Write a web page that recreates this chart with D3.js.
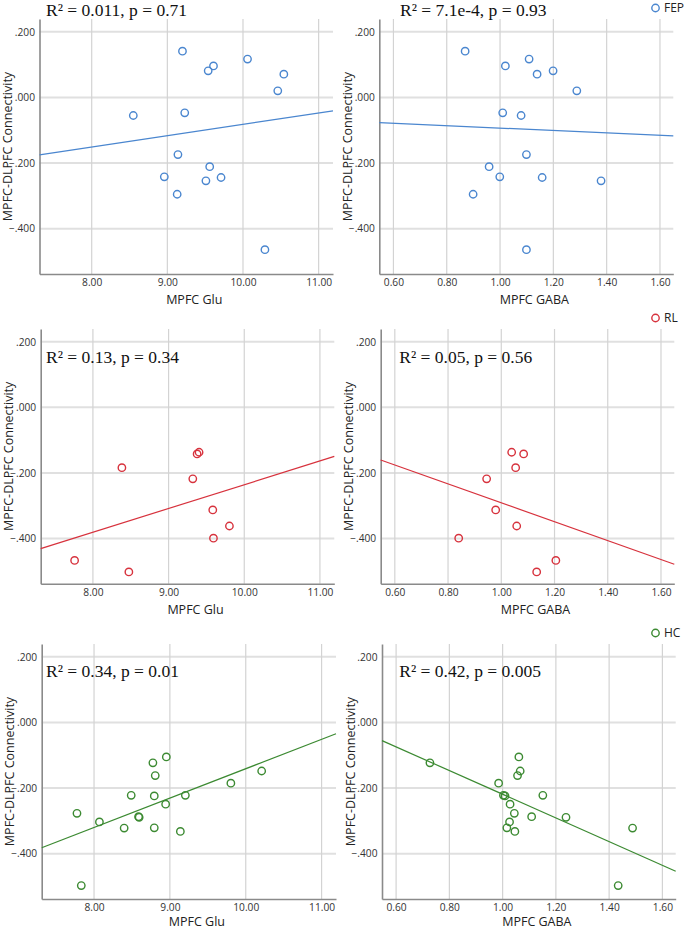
<!DOCTYPE html>
<html>
<head>
<meta charset="utf-8">
<script src="https://cdn.jsdelivr.net/npm/d3@7"></script>
<style>
  body { margin: 0; background: #fff; }
  svg { display: block; }
</style>
</head>
<body>
<div id="chart"></div>
<script>
// group names and colours
const groups = ['FEP', 'RL', 'HC'];
const groupColors = ['#4a86cf', '#d7323d', '#3c8a32'];

// MPFC-DLPFC connectivity per subject, with MPFC Glu and GABA of the same subject
const fepConn = [0.141, 0.117, 0.096, 0.081, 0.071, 0.020, -0.047, -0.055, -0.174, -0.211, -0.242, -0.244, -0.254, -0.295, -0.464];
const fepGlu  = [9.20, 10.06, 9.61, 9.54, 10.54, 10.46, 9.23, 8.55, 9.14, 9.56, 8.96, 9.71, 9.51, 9.13, 10.29];
const fepGaba = [0.869, 1.109, 1.020, 1.199, 1.139, 1.288, 1.010, 1.079, 1.099, 0.959, 0.999, 1.158, 1.379, 0.899, 1.099];

const rlConn = [-0.137, -0.142, -0.184, -0.218, -0.313, -0.362, -0.399, -0.467, -0.502];
const rlGlu  = [9.403, 9.377, 8.383, 9.320, 9.584, 9.804, 9.593, 7.758, 8.475];
const rlGaba = [1.039, 1.084, 1.054, 0.945, 0.979, 1.058, 0.840, 1.205, 1.133];

const hcConn = [-0.105, -0.123, -0.148, -0.162, -0.185, -0.222, -0.222, -0.224, -0.249, -0.277, -0.287, -0.289, -0.303, -0.321, -0.322, -0.332, -0.497];
const hcGlu  = [8.953, 8.776, 10.210, 8.807, 9.804, 8.490, 9.204, 8.794, 8.944, 7.775, 8.587, 8.595, 8.071, 8.794, 8.397, 9.138, 7.832];
const hcGaba = [1.061, 0.727, 1.066, 1.056, 0.985, 1.003, 1.151, 1.009, 1.028, 1.044, 1.109, 1.238, 1.026, 1.016, 1.488, 1.046, 1.434];

// fit lines: [slope, intercept]
const fitGlu  = [[0.0346, -0.428], [0.0725, -0.961], [0.0895, -1.036]];
const fitGaba = [[-0.0361, -0.0573], [-0.2886, -0.0026], [-0.3607, 0.1419]];

// statistics text
const statsGlu  = ['R\u00b2 = 0.011, p = 0.71', 'R\u00b2 = 0.13, p = 0.34', 'R\u00b2 = 0.34, p = 0.01'];
const statsGaba = ['R\u00b2 = 7.1e-4, p = 0.93', 'R\u00b2 = 0.05, p = 0.56', 'R\u00b2 = 0.42, p = 0.005'];

// axis ticks
const gluTicks  = [8, 9, 10, 11];
const gabaTicks = [0.6, 0.8, 1.0, 1.2, 1.4, 1.6];
const connTicks = [0.2, 0, -0.2, -0.4];

const conn = [fepConn, rlConn, hcConn];
const glu  = [fepGlu, rlGlu, hcGlu];
const gaba = [fepGaba, rlGaba, hcGaba];

const svg = d3.select('#chart')
      .append('svg')
      .attr('width', 685)
      .attr('height', 931);

// plot rectangles [left, top, right, bottom], one row per group
const rects = [
  [[39.5, 19, 333, 274], [379.3, 19, 673.3, 274]],
  [[40.7, 329, 334.3, 583.7], [380.7, 329, 674.3, 583.7]],
  [[41.7, 644, 336, 899], [382, 644, 675.7, 899]]
];

const yFmt = d => d3.format('.3f')(d).replace('0.', '.');

function drawPanel(r, gi, xs, ys, xDomain, xTicks, xTitle, fit, stats, statsX, statsY, legend) {
  const [l, t, rt, b] = r;
  const color = groupColors[gi];
  const xScale = d3.scaleLinear().domain(xDomain).range([l, rt]);
  const yScale = d3.scaleLinear().domain([-0.538, 0.239]).range([b, t]);
  const g = svg.append('g');

  // grid
  g.selectAll('.hgrid').data(connTicks).enter().append('line')
    .attr('x1', l).attr('x2', rt)
    .attr('y1', d => yScale(d)).attr('y2', d => yScale(d))
    .attr('stroke', '#e0e0e0').attr('stroke-width', 2);
  g.selectAll('.vgrid').data(xTicks).enter().append('line')
    .attr('x1', d => xScale(d)).attr('x2', d => xScale(d))
    .attr('y1', t).attr('y2', b)
    .attr('stroke', '#d3d3d3').attr('stroke-width', 1.2);

  // axes
  const xAxis = d3.axisBottom(xScale).tickValues(xTicks).tickSize(0).tickPadding(5)
    .tickFormat(d3.format('.2f'));
  const yAxis = d3.axisLeft(yScale).tickValues(connTicks).tickSize(0).tickPadding(4.5)
    .tickFormat(yFmt);
  const xAxisG = g.append('g').attr('transform', 'translate(0,' + b + ')').call(xAxis);
  const yAxisG = g.append('g').attr('transform', 'translate(' + l + ',0)').call(yAxis);
  [xAxisG, yAxisG].forEach(a => {
    a.select('.domain').attr('stroke', '#8a8a8a').attr('stroke-width', 1.6);
    a.selectAll('text').attr('font-family', 'Open Sans').attr('font-size', '10.2px').attr('fill', '#333');
  });

  // titles
  g.append('text')
    .attr('x', (l + rt) / 2 + 8).attr('y', Math.min(b + 30, 926))
    .attr('text-anchor', 'middle')
    .attr('font-family', 'Open Sans').attr('font-size', '12.5px').attr('fill', '#222')
    .text(xTitle);
  g.append('text')
    .attr('transform', 'translate(' + (l - 27.5) + ',' + ((t + b) / 2) + ') rotate(-90)')
    .attr('text-anchor', 'middle')
    .attr('font-family', 'Open Sans').attr('font-size', '12.5px').attr('fill', '#222')
    .text('MPFC-DLPFC Connectivity');

  // fit line
  g.append('line')
    .attr('x1', xScale(xDomain[0])).attr('y1', yScale(fit[0] * xDomain[0] + fit[1]))
    .attr('x2', xScale(xDomain[1])).attr('y2', yScale(fit[0] * xDomain[1] + fit[1]))
    .attr('stroke', color).attr('stroke-width', 1.2);

  // points
  g.selectAll('.pt').data(xs).enter().append('circle')
    .attr('cx', (d, i) => xScale(d))
    .attr('cy', (d, i) => yScale(ys[i]))
    .attr('r', 3.7)
    .attr('fill', 'none')
    .attr('stroke', color).attr('stroke-width', 1.4);

  // stats
  g.append('text')
    .attr('x', statsX).attr('y', statsY)
    .attr('font-family', 'Liberation Serif').attr('font-size', '17.5px').attr('fill', '#111')
    .text(stats);

  if (legend) {
    g.append('circle').attr('cx', 655.5).attr('cy', t - 11).attr('r', 3.7)
      .attr('fill', 'none').attr('stroke', color).attr('stroke-width', 1.4);
    g.append('text').attr('x', 664).attr('y', t - 7)
      .attr('font-family', 'Open Sans').attr('font-size', '12px').attr('fill', '#222')
      .text(groups[gi]);
  }
}

const statsYs = [16, 363, 677];
groups.forEach((grp, gi) => {
  drawPanel(rects[gi][0], gi, glu[gi], conn[gi], [7.31, 11.19], gluTicks, 'MPFC Glu',
    fitGlu[gi], statsGlu[gi], 46, statsYs[gi], false);
  drawPanel(rects[gi][1], gi, gaba[gi], conn[gi], [0.547, 1.65], gabaTicks, 'MPFC GABA',
    fitGaba[gi], statsGaba[gi], gi === 0 ? 400 : 399.3, statsYs[gi], true);
});
</script>
</body>
</html>
